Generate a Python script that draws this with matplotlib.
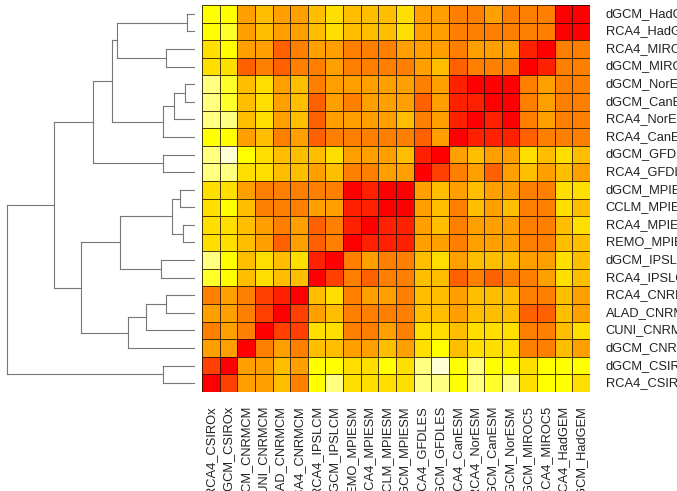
import matplotlib
matplotlib.use('Agg')
import matplotlib.pyplot as plt
from matplotlib.colors import ListedColormap, BoundaryNorm
import numpy as np

# row labels, top to bottom (columns are the same order reversed)
row_labels = ['dGCM_HadGEM', 'RCA4_HadGEM', 'RCA4_MIROC5', 'dGCM_MIROC5',
              'dGCM_NorESM', 'dGCM_CanESM', 'RCA4_NorESM', 'RCA4_CanESM',
              'dGCM_GFDLES', 'RCA4_GFDLES', 'dGCM_MPIESM', 'CCLM_MPIESM',
              'RCA4_MPIESM', 'REMO_MPIESM', 'dGCM_IPSLCM', 'RCA4_IPSLCM',
              'RCA4_CNRMCM', 'ALAD_CNRMCM', 'CUNI_CNRMCM', 'dGCM_CNRMCM',
              'dGCM_CSIROx', 'RCA4_CSIROx']
col_labels = row_labels[::-1]

# colour level of each cell (0 = red ... 11 = pale cream), rows top to bottom
levels = [
    [8, 8, 5, 6, 5, 5, 6, 7, 6, 6, 6, 7, 5, 5, 4, 4, 5, 4, 4, 4, 0, 0],
    [8, 9, 5, 6, 5, 5, 6, 7, 6, 6, 6, 7, 5, 5, 4, 4, 4, 4, 4, 4, 0, 0],
    [7, 8, 5, 5, 3, 4, 5, 5, 4, 4, 4, 5, 5, 5, 4, 5, 5, 5, 1, 0, 4, 4],
    [7, 7, 3, 4, 3, 4, 4, 5, 4, 4, 4, 4, 5, 6, 3, 4, 4, 4, 0, 1, 4, 4],
    [10, 9, 6, 7, 5, 6, 4, 5, 5, 5, 5, 5, 4, 5, 1, 0, 0, 0, 4, 5, 4, 4],
    [10, 9, 6, 7, 5, 6, 3, 5, 4, 5, 5, 5, 3, 5, 1, 1, 0, 0, 4, 5, 4, 4],
    [10, 10, 6, 7, 5, 6, 3, 5, 5, 5, 5, 6, 4, 5, 1, 0, 1, 0, 4, 5, 4, 4],
    [8, 8, 5, 6, 4, 5, 3, 4, 4, 4, 4, 4, 3, 5, 0, 1, 1, 1, 3, 4, 4, 4],
    [10, 11, 8, 7, 6, 6, 6, 7, 5, 5, 5, 6, 1, 0, 5, 6, 5, 5, 7, 6, 7, 6],
    [10, 10, 7, 7, 6, 6, 5, 6, 4, 4, 5, 5, 0, 2, 4, 5, 3, 5, 6, 5, 6, 5],
    [7, 7, 5, 4, 4, 4, 4, 4, 0, 1, 0, 0, 5, 6, 5, 6, 5, 5, 4, 4, 7, 7],
    [7, 8, 6, 4, 4, 4, 5, 5, 1, 1, 0, 0, 5, 6, 4, 6, 5, 6, 4, 4, 7, 6],
    [7, 7, 6, 5, 4, 5, 3, 4, 1, 0, 1, 1, 5, 6, 4, 5, 5, 5, 4, 4, 6, 7],
    [7, 7, 6, 5, 3, 5, 3, 4, 0, 1, 1, 1, 5, 5, 4, 5, 5, 5, 4, 4, 6, 6],
    [10, 8, 6, 7, 6, 7, 1, 0, 4, 5, 4, 4, 6, 7, 5, 6, 6, 6, 5, 5, 7, 6],
    [9, 8, 6, 7, 6, 6, 0, 2, 4, 3, 4, 4, 6, 6, 3, 4, 3, 4, 4, 5, 7, 6],
    [4, 5, 4, 2, 1, 0, 6, 7, 4, 5, 5, 4, 6, 6, 5, 6, 6, 6, 4, 4, 6, 5],
    [5, 5, 4, 2, 0, 2, 5, 6, 4, 4, 4, 4, 6, 6, 5, 6, 6, 6, 3, 3, 6, 5],
    [4, 5, 4, 0, 2, 2, 7, 7, 4, 4, 5, 4, 7, 7, 6, 7, 7, 7, 4, 4, 6, 7],
    [5, 5, 0, 4, 5, 4, 6, 6, 5, 5, 6, 5, 7, 8, 6, 7, 7, 7, 4, 4, 6, 5],
    [2, 0, 5, 5, 6, 5, 8, 8, 7, 7, 8, 7, 10, 11, 8, 10, 8, 8, 7, 8, 8, 8],
    [0, 2, 5, 5, 6, 4, 8, 10, 7, 7, 7, 7, 10, 10, 8, 10, 9, 10, 7, 8, 8, 7],
]

# row dendrogram: (height, left, right), leaves are row indices
tree = (1.0,
        (0.75,
         (0.54,
          (0.44,
           (0.415, (0.043, 0, 1), (0.154, 2, 3)),
           (0.17, (0.112, (0.053, 4, 5), 6), 7)),
          (0.17, 8, 9)),
         (0.606,
          (0.40,
           (0.122, (0.08, 10, 11), (0.064, 12, 13)),
           (0.181, 14, 15)),
          (0.356, (0.261, (0.154, 16, 17), 18), 19))),
        (0.17, 20, 21))

heat = ['#FF0000', '#FF2000', '#FF4000', '#FF6000', '#FF8000', '#FF9F00',
        '#FFBF00', '#FFDF00', '#FFFF00', '#FFFF2A', '#FFFF80', '#FFFFD5']
cmap = ListedColormap(heat)
norm = BoundaryNorm(np.arange(13) - 0.5, 12)

W, H = 677, 491
fig = plt.figure(figsize=(W / 100, H / 100), dpi=100)
plt.rcParams['font.family'] = ['Liberation Sans', 'DejaVu Sans']

# heatmap
hx0, hx1, hy0, hy1 = 202, 590, 5, 392
ax = fig.add_axes([hx0 / W, 1 - hy1 / H, (hx1 - hx0) / W, (hy1 - hy0) / H])
n = len(row_labels)
ax.pcolormesh(np.arange(n + 1), np.arange(n + 1), np.array(levels),
              cmap=cmap, norm=norm, edgecolors=(0.1, 0.05, 0, 0.8),
              linewidth=0.6)
ax.set_xlim(0, n)
ax.set_ylim(n, 0)
ax.set_xticks([])
ax.set_yticks([])
for s in ax.spines.values():
    s.set_visible(False)

for i, lab in enumerate(row_labels):
    ax.text(n + 0.9, i + 0.5, lab, ha='left', va='center', fontsize=9.3,
            color='#222222', clip_on=False)
for j, lab in enumerate(col_labels):
    ax.text(j + 0.5, n + 0.8, lab, ha='center', va='top', rotation=90,
            fontsize=9.3, color='#222222', clip_on=False)

# dendrogram
dx1 = 195
dax = fig.add_axes([0, 1 - hy1 / H, dx1 / W, (hy1 - hy0) / H])
dax.set_xlim(1.0 * dx1 / (dx1 - 7), 0)
dax.set_ylim(n, 0)
dax.axis('off')


def draw(node):
    if isinstance(node, int):
        return node + 0.5, 0.0
    h, left, right = node
    y1, h1 = draw(left)
    y2, h2 = draw(right)
    dax.plot([h1, h], [y1, y1], color='#777777', lw=0.8)
    dax.plot([h2, h], [y2, y2], color='#777777', lw=0.8)
    dax.plot([h, h], [y1, y2], color='#777777', lw=0.8)
    return (y1 + y2) / 2, h


draw(tree)

fig.savefig('out.png', dpi=100)
